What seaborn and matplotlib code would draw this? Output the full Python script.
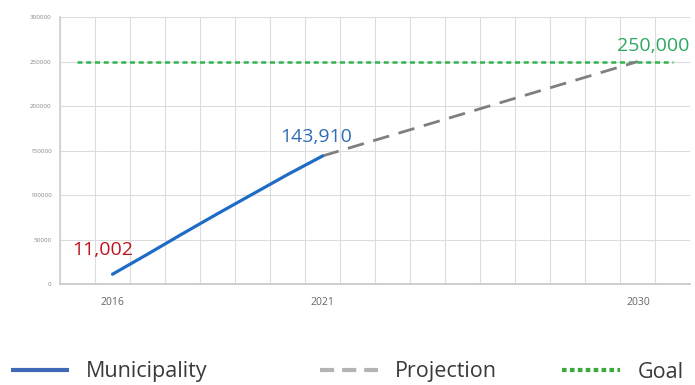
import numpy as np
import pandas as pd
import seaborn as sns
import matplotlib.pyplot as plt
from matplotlib.lines import Line2D

# x axis is a row of 18 equal slots, labelled only at three of them
slot_labels = [''] * 18
slot_labels[1] = '2016'
slot_labels[7] = '2021'
slot_labels[16] = '2030'

muni_slot = [1, 2, 3, 4, 5, 6, 7]
muni_vals = [11002, 33500, 56500, 79000, 101000, 123000, 143910]
proj_slot = [7, 16]
proj_vals = [143910, 250000]
goal_slot = [0, 17]
goal_vals = [250000, 250000]
y_ticks = [0, 50000, 100000, 150000, 200000, 250000, 300000]

muni = pd.DataFrame({'slot': muni_slot, 'value': muni_vals})
proj = pd.DataFrame({'slot': proj_slot, 'value': proj_vals})
goal = pd.DataFrame({'slot': goal_slot, 'value': goal_vals})

sns.set_theme(style='white')
plt.rcParams['font.family'] = ['Open Sans', 'DejaVu Sans']

fig = plt.figure(figsize=(6.95, 3.85), dpi=100)
ax = fig.add_axes([0.0863, 0.2623, 0.907, 0.6935])

sns.lineplot(data=goal, x='slot', y='value', ax=ax, color='#2fb34f', lw=1.8,
             linestyle=(0, (2, 1.5)))
sns.lineplot(data=proj, x='slot', y='value', ax=ax, color='#7f7f7f', lw=2,
             linestyle=(0, (6, 3.5)))
sns.lineplot(data=muni, x='slot', y='value', ax=ax, color='#1f6cc6', lw=2.3,
             solid_joinstyle='round', solid_capstyle='round')

ax.set_xlim(-0.5, 17.5)
ax.set_ylim(0, 300000)
ax.set_xticks([i for i, s in enumerate(slot_labels) if s])
ax.set_xticklabels([s for s in slot_labels if s], fontsize=7.5, color='#666666')
ax.set_xticks(np.arange(-0.5, 18, 1), minor=True)
ax.set_yticks(y_ticks)
ax.set_yticklabels([str(v) for v in y_ticks], fontsize=4.5, color='#888888')
ax.tick_params(axis='both', which='both', length=0)
ax.tick_params(axis='x', pad=9)
ax.tick_params(axis='y', pad=6)
ax.grid(True, which='minor', axis='x', color='#dcdcdc', lw=0.8)
ax.grid(True, which='major', axis='y', color='#dcdcdc', lw=0.8)
ax.grid(False, which='major', axis='x')
ax.set_xlabel('')
ax.set_ylabel('')
for side in ['top', 'right']:
    ax.spines[side].set_visible(False)
ax.spines['left'].set_color('#d0d0d0')
ax.spines['bottom'].set_color('#c8c8c8')

ax.text(0.73, 38200, f'{muni_vals[0]:,}', color='#c0141c',
        fontsize=14, ha='center', va='center')
ax.text(6.81, 165000, f'{muni_vals[-1]:,}', color='#2e6db4',
        fontsize=14, ha='center', va='center')
ax.text(16.44, 267400, f'{goal_vals[0]:,}', color='#2ea860',
        fontsize=14, ha='center', va='center')

# legend entries sit at uneven positions, so one small legend per entry
leg_items = [
    (Line2D([], [], color='#4068b8', lw=3, solid_capstyle='butt'), 'Municipality', 11),
    (Line2D([], [], color='#b4b4b4', lw=3, linestyle=(0, (3.4, 1.9)),
            dash_capstyle='butt'), 'Projection', 320),
    (Line2D([], [], color='#3aaa3a', lw=3, linestyle=(0, (1.1, 0.8)),
            dash_capstyle='butt'), 'Goal', 562),
]
for h, lab, x0 in leg_items:
    leg = fig.legend([h], [lab], loc='center left', bbox_to_anchor=(x0 / 695, 1 - 372 / 385),
                     frameon=False, fontsize=15.5, borderpad=0, borderaxespad=0,
                     handlelength=2.7, handletextpad=0.8, labelcolor='#3a3a3a')

fig.savefig('out.png', dpi=100)
